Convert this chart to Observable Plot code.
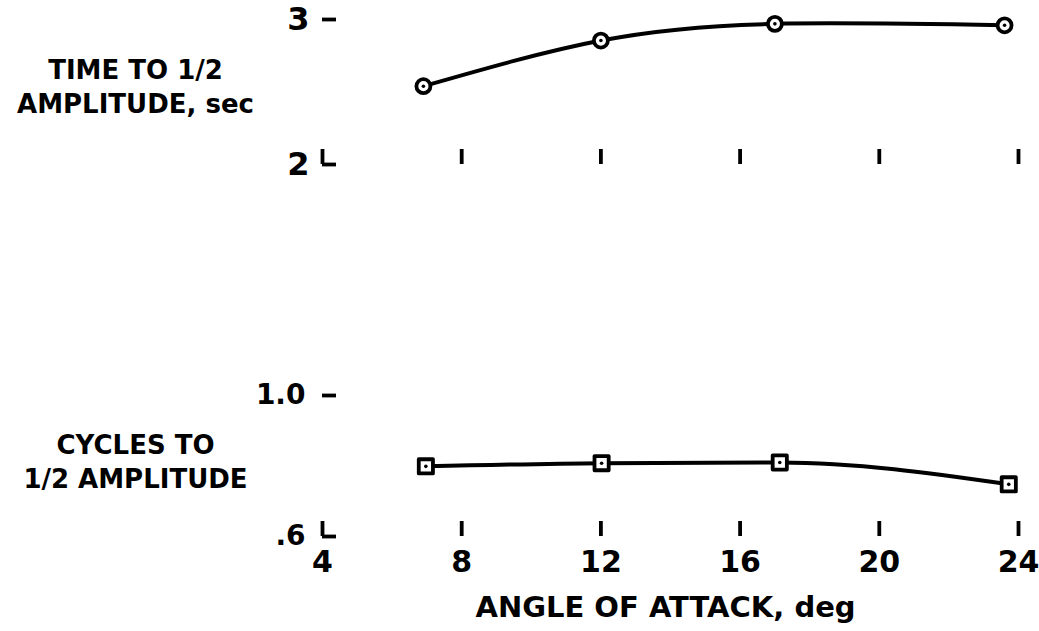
<!DOCTYPE html>
<html><head><meta charset="utf-8">
<script src="https://cdn.jsdelivr.net/npm/d3@7"></script>
<script src="https://cdn.jsdelivr.net/npm/@observablehq/plot@0.6"></script>
<style>
html,body{margin:0;padding:0;background:#fff;}
#chart{position:relative;width:1039px;height:631px;overflow:hidden;background:#fff;}
#chart svg{position:absolute;left:0;}
</style></head><body><div id="chart"></div>
<script>
// Data
const timeAngle = [6.9, 12.0, 17.0, 23.6];
const timeHalf = [2.54, 2.855, 2.97, 2.96];
const cycAngle = [6.97, 12.02, 17.14, 23.72];
const cycHalf = [0.799, 0.808, 0.81, 0.748];

const angleTicks = [4, 8, 12, 16, 20, 24];
const angleTickLabels = ["4", "8", "12", "16", "20", "24"];
const timeTicks = [2, 3];
const timeTickLabels = ["2", "3"];
const cycTicks = [0.6, 1.0];
const cycTickLabels = [".6", "1.0"];

const timeLabel = "TIME TO 1/2\nAMPLITUDE, sec";
const cycLabel = "CYCLES TO\n1/2 AMPLITUDE";
const xLabel = "ANGLE OF ATTACK, deg";

const FONT = '"DejaVu Sans", sans-serif';
const fmt = (ticks, labels) => d => labels[ticks.indexOf(d)];
const timeData = timeAngle.map((a, i) => ({a, v: timeHalf[i]}));
const cycData = cycAngle.map((a, i) => ({a, v: cycHalf[i]}));

const baseStyle = {background: "white", color: "black", fontFamily: FONT, fontWeight: "bold", overflow: "visible"};

const topPlot = Plot.plot({
  width: 1039, height: 200,
  marginLeft: 322, marginRight: 21, marginTop: 19, marginBottom: 36,
  x: {domain: [4, 24], label: null},
  y: {domain: [2, 3], label: null},
  style: baseStyle,
  marks: [
    Plot.axisY(timeTicks, {tickSize: -14, tickPadding: 27, strokeWidth: 3.8, fontSize: 32, tickFormat: fmt(timeTicks, timeTickLabels), label: null}),
    Plot.axisX(angleTicks, {tickSize: -15, strokeWidth: 3.8, tickFormat: () => "", label: null}),
    Plot.line(timeData, {x: "a", y: "v", curve: "natural", strokeWidth: 4, stroke: "black"}),
    Plot.dot(timeData, {x: "a", y: "v", r: 7, stroke: "black", strokeWidth: 3.8, fill: "white"}),
    Plot.dot(timeData, {x: "a", y: "v", r: 1.8, fill: "black"}),
    Plot.text([timeLabel], {frameAnchor: "left", dx: -187, dy: -7, fontSize: 26, lineHeight: 1.3, textAnchor: "middle"})
  ]
});

const botPlot = Plot.plot({
  width: 1039, height: 431,
  marginLeft: 322, marginRight: 21, marginTop: 195, marginBottom: 95,
  x: {domain: [4, 24], label: null},
  y: {domain: [0.6, 1.0], label: null},
  style: baseStyle,
  marks: [
    Plot.axisY(cycTicks, {tickSize: -14, tickPadding: 31, strokeWidth: 3.8, fontSize: 28, tickFormat: fmt(cycTicks, cycTickLabels), label: null}),
    Plot.axisX(angleTicks, {tickSize: -15, tickPadding: 29, strokeWidth: 3.8, fontSize: 30, tickFormat: fmt(angleTicks, angleTickLabels), label: null}),
    Plot.line(cycData, {x: "a", y: "v", curve: "monotone-x", strokeWidth: 4, stroke: "black"}),
    Plot.dot(cycData, {x: "a", y: "v", symbol: "square", r: 8, stroke: "black", strokeWidth: 3.8, fill: "white", strokeLinejoin: "round"}),
    Plot.dot(cycData, {x: "a", y: "v", r: 1.8, fill: "black"}),
    Plot.text([cycLabel], {frameAnchor: "left", dx: -187, dy: -6, fontSize: 26, lineHeight: 1.3, textAnchor: "middle"}),
    Plot.text([xLabel], {frameAnchor: "bottom", dy: 80, dx: -5, fontSize: 29})
  ]
});

const chart = document.getElementById("chart");
topPlot.style.top = "0px";
botPlot.style.top = "200px";
chart.appendChild(topPlot);
chart.appendChild(botPlot);
</script>
</body></html>
